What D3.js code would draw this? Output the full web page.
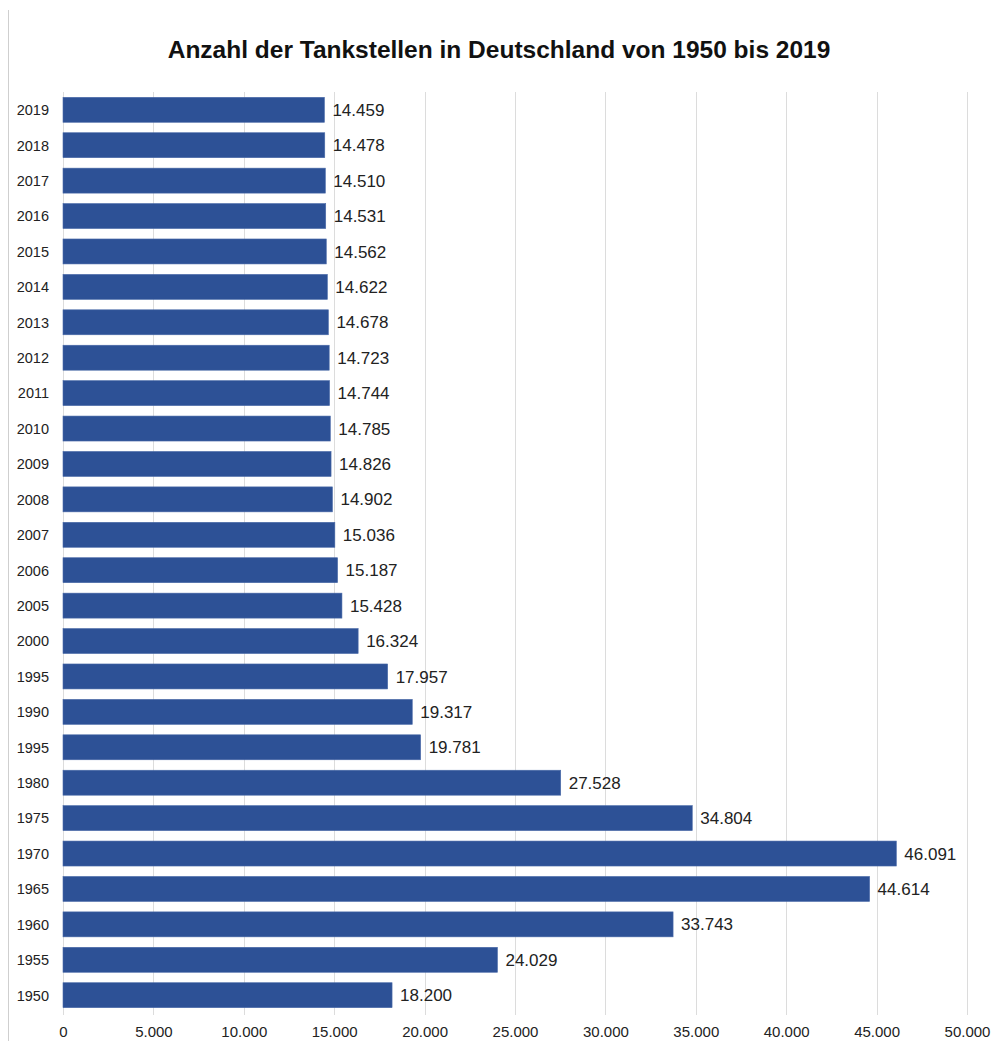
<!DOCTYPE html>
<html>
<head>
<meta charset="utf-8">
<script src="https://cdn.jsdelivr.net/npm/d3@7"></script>
<style>
  html, body { margin: 0; padding: 0; background: #fff; }
  svg { display: block; font-family: "Liberation Sans", Arial, sans-serif; }
</style>
</head>
<body>
<div id="chart"></div>
<script>
// Number of petrol stations in Germany, top row first
const years = ["2019","2018","2017","2016","2015","2014","2013","2012","2011","2010",
               "2009","2008","2007","2006","2005","2000","1995","1990","1995","1980",
               "1975","1970","1965","1960","1955","1950"];
const stations = [14459,14478,14510,14531,14562,14622,14678,14723,14744,14785,
                  14826,14902,15036,15187,15428,16324,17957,19317,19781,27528,
                  34804,46091,44614,33743,24029,18200];
const xTicks = [0,5000,10000,15000,20000,25000,30000,35000,40000,45000,50000];
const title = "Anzahl der Tankstellen in Deutschland von 1950 bis 2019";

const W = 992, H = 1041;
const fmt = d3.formatLocale({decimal: ",", thousands: ".", grouping: [3], currency: ["", "€"]}).format(",d");

const svg = d3.select("#chart").append("svg").attr("width", W).attr("height", H);

// Thin frame line on the left edge
svg.append("line")
  .attr("x1", 8.5).attr("x2", 8.5).attr("y1", 10).attr("y2", H)
  .attr("stroke", "#cfcfcf").attr("stroke-width", 1);

svg.append("text")
  .attr("x", 499).attr("y", 58)
  .attr("text-anchor", "middle")
  .attr("font-size", 24.5).attr("font-weight", "bold").attr("fill", "#111")
  .text(title);

const x = d3.scaleLinear().domain([0, 50000]).range([63, 967]);
const idx = d3.range(years.length);
const y = d3.scaleBand().domain(idx).range([92, 1013]).paddingInner(0.295).paddingOuter(0.15);

// Vertical gridlines
svg.append("g").selectAll("line").data(xTicks).join("line")
  .attr("x1", d => Math.round(x(d)) + 0.5).attr("x2", d => Math.round(x(d)) + 0.5)
  .attr("y1", 92).attr("y2", 1015)
  .attr("stroke", "#dcdcdc").attr("stroke-width", 1);

// Bottom axis labels
const xAxis = svg.append("g").attr("transform", "translate(0,1015)")
  .call(d3.axisBottom(x).tickValues(xTicks).tickFormat(fmt).tickSize(0).tickPadding(11));
xAxis.select(".domain").remove();
xAxis.selectAll("text").attr("font-size", 15).attr("fill", "#222")
  .attr("font-family", "Liberation Sans, Arial, sans-serif");

// Bars
svg.append("g").selectAll("rect").data(idx).join("rect")
  .attr("x", x(0))
  .attr("y", i => y(i))
  .attr("width", i => x(stations[i]) - x(0))
  .attr("height", y.bandwidth())
  .attr("fill", "#2d5196")
  .attr("stroke", "#4a6aa8").attr("stroke-width", 0.6);

// Value labels
svg.append("g").selectAll("text").data(idx).join("text")
  .attr("x", i => x(stations[i]) + 8)
  .attr("y", i => y(i) + y.bandwidth() / 2)
  .attr("dy", "0.36em")
  .attr("font-size", 17).attr("fill", "#222")
  .text(i => fmt(stations[i]));

// Year labels
svg.append("g").selectAll("text").data(idx).join("text")
  .attr("x", 49)
  .attr("y", i => y(i) + y.bandwidth() / 2)
  .attr("dy", "0.37em")
  .attr("text-anchor", "end")
  .attr("font-size", 14.5).attr("fill", "#222")
  .text(i => years[i]);
</script>
</body>
</html>
